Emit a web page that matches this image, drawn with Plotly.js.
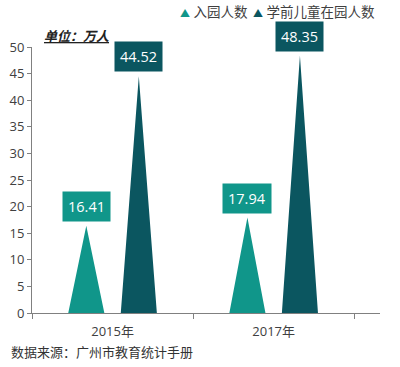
<!DOCTYPE html>
<html><head><meta charset="utf-8">
<script src="https://cdn.plot.ly/plotly-3.0.1.min.js"></script>
<style>html,body{margin:0;padding:0;background:#fff}#chart{width:400px;height:367px}</style>
</head><body><div id="chart"></div>
<script>
const categories = ['2015年', '2017年'];
const seriesNames = ['入园人数', '学前儿童在园人数'];
const enrolled = [16.41, 17.94];
const inKindergarten = [44.52, 48.35];
const yTicks = [0, 5, 10, 15, 20, 25, 30, 35, 40, 45, 50];

const colors = ['#10968a', '#0b5660'];
const FONT = '"Open Sans", "Noto Sans CJK SC", sans-serif';
const offsets = [-0.163, 0.163];
const halfW = 0.112;

const seriesVals = [enrolled, inKindergarten];
const traces = [];
seriesVals.forEach((vals, s) => {
  const xs = [], ys = [];
  vals.forEach((v, i) => {
    const c = i + offsets[s];
    xs.push(c - halfW, c, c + halfW, c - halfW, null);
    ys.push(0, v, 0, 0, null);
  });
  traces.push({
    type: 'scatter', mode: 'lines', x: xs, y: ys, fill: 'toself',
    fillcolor: colors[s], line: {width: 0, color: colors[s]},
    name: seriesNames[s], showlegend: false, hoverinfo: 'skip'
  });
});

const annotations = [];
seriesVals.forEach((vals, s) => {
  vals.forEach((v, i) => {
    annotations.push({
      x: i + offsets[s], y: v, xref: 'x', yref: 'y',
      text: v.toFixed(2), showarrow: false, yanchor: 'bottom', yshift: 4,
      bgcolor: colors[s], borderpad: 5,
      font: {family: FONT, size: 14.5, color: '#ffffff'}
    });
  });
});
// legend drawn as text items
const legendX = [0.42, 0.63];
seriesNames.forEach((n, s) => {
  annotations.push({
    xref: 'paper', yref: 'paper', x: legendX[s], y: 1.133, xanchor: 'left', yanchor: 'middle',
    text: '<span style="color:' + colors[s] + ';font-size:10px">▲</span> ' + n,
    showarrow: false, font: {family: FONT, size: 13.5, color: '#404040'}
  });
});
annotations.push({
  xref: 'paper', yref: 'paper', x: 0.03, y: 1.04, xanchor: 'left', yanchor: 'middle',
  text: '<b><i><u>单位：万人</u></i></b>', showarrow: false,
  font: {family: FONT, size: 13, color: '#222222'}
});
annotations.push({
  xref: 'paper', yref: 'paper', x: -0.065, y: -0.148, xanchor: 'left', yanchor: 'middle',
  text: '数据来源：广州市教育统计手册', showarrow: false,
  font: {family: FONT, size: 13, color: '#333333'}
});

const layout = {
  width: 400, height: 367,
  margin: {l: 32, r: 20, t: 47, b: 54, autoexpand: false},
  paper_bgcolor: '#ffffff', plot_bgcolor: '#ffffff',
  font: {family: FONT, size: 13, color: '#404040'},
  xaxis: {
    type: 'linear', range: [-0.5, 1.66],
    tickvals: [0, 1], ticktext: categories, ticks: '', ticklabelstandoff: 6,
    showline: true, linecolor: '#808080', linewidth: 1,
    showgrid: false, zeroline: false, fixedrange: true,
    tickfont: {size: 13, color: '#404040'},
    minor: {tickvals: [-0.5, 0.5, 1.5], ticks: 'outside', ticklen: 5, tickcolor: '#808080', showgrid: false}
  },
  yaxis: {
    range: [0, 50], tickvals: yTicks, ticks: 'outside', ticklen: 4, tickcolor: '#808080',
    showline: true, linecolor: '#808080', linewidth: 1,
    showgrid: false, zeroline: false, fixedrange: true,
    tickfont: {size: 13, color: '#404040'}
  },
  showlegend: false,
  annotations: annotations
};

Plotly.newPlot('chart', traces, layout, {displayModeBar: false, staticPlot: true});
</script></body></html>
